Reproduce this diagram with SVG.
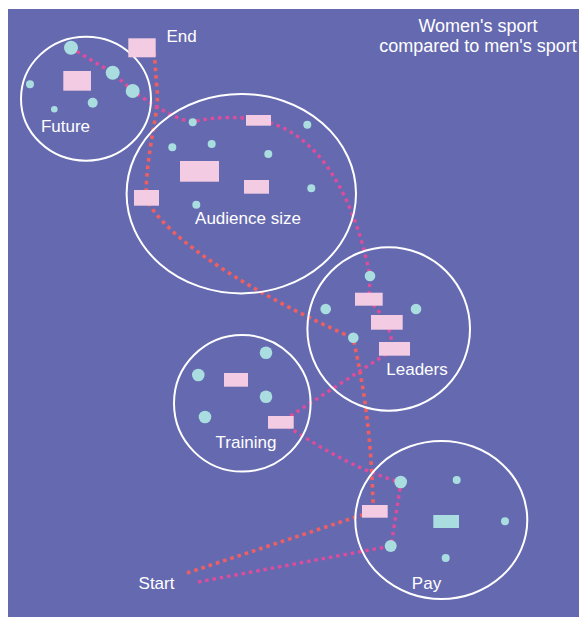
<svg xmlns="http://www.w3.org/2000/svg" width="579" height="617" viewBox="0 0 579 617">
<style>
.ring{fill:none;stroke:#fff;stroke-width:2}
.dot{fill:#a9dde0}
.box{fill:#f3cbe2}
.lbl{font-family:"Liberation Sans",Arial,sans-serif;font-size:17px;fill:#fff;text-anchor:middle}
.ttl{font-family:"Liberation Sans",Arial,sans-serif;font-size:18px;fill:#fff;text-anchor:middle}
.red{fill:none;stroke:#ef5f62;stroke-width:3.6;stroke-dasharray:3.6 4}
.mag{fill:none;stroke:#e04c9c;stroke-width:3.4;stroke-dasharray:3.4 4}
</style>
<rect x="0" y="0" width="579" height="617" fill="#fff"/>
<rect x="8" y="9" width="571" height="608" fill="#6569b0"/>
<g id="title">
<text class="ttl" x="478" y="32">Women's sport</text>
<text class="ttl" x="478" y="51.5">compared to men's sport</text>
</g>
<g id="connectors">
<path class="red" d="M187,573 L374,511 L373,500 C371,440 365,390 353,338 C260,297 165,240 146,198 C146,150 160,110 157,90 L154,50"/>
<path class="mag" d="M198,582 L391,546 L401,482 Q352,470 281,422 L394,349 L387,322 L369,299 L370,276 C355,200 320,130 258,120 C240,116 210,117 193,122 C178,120 160,110 133,91 L113,73 L71,48"/>
</g>
<g id="future">
<ellipse class="ring" cx="86" cy="98.7" rx="65" ry="62"/>
<rect class="box" x="63.3" y="71" width="27.7" height="19.7"/>
<circle class="dot" cx="71" cy="47.7" r="7"/>
<circle class="dot" cx="112.7" cy="72.7" r="7"/>
<circle class="dot" cx="132.7" cy="91" r="7"/>
<circle class="dot" cx="30" cy="84.3" r="4"/>
<circle class="dot" cx="92.7" cy="102.7" r="5"/>
<circle class="dot" cx="54.3" cy="109.3" r="3.3"/>
<text class="lbl" x="65.5" y="131.7">Future</text>
</g>
<g id="end">
<rect class="box" x="128.3" y="38.3" width="27.4" height="19"/>
<text class="lbl" x="181.5" y="42" >End</text>
</g>
<g id="audience">
<ellipse class="ring" cx="241.3" cy="193.7" rx="114.7" ry="99.7"/>
<rect class="box" x="180" y="161" width="39" height="20.7"/>
<rect class="box" x="244" y="180" width="25" height="13.7"/>
<rect class="box" x="246" y="115" width="25" height="10.7"/>
<rect class="box" x="134" y="190" width="25" height="15.7"/>
<circle class="dot" cx="192.7" cy="122.3" r="4"/>
<circle class="dot" cx="307.3" cy="124.7" r="4"/>
<circle class="dot" cx="172.3" cy="147.3" r="4"/>
<circle class="dot" cx="211.7" cy="144" r="4"/>
<circle class="dot" cx="268.3" cy="154" r="4"/>
<circle class="dot" cx="311.3" cy="188.3" r="4"/>
<circle class="dot" cx="196.3" cy="204.7" r="4"/>
<text class="lbl" x="248" y="224">Audience size</text>
</g>
<g id="leaders">
<ellipse class="ring" cx="388.7" cy="329" rx="81.3" ry="81.7"/>
<rect class="box" x="355" y="292.7" width="27.7" height="13"/>
<rect class="box" x="371" y="315" width="31.7" height="14.7"/>
<rect class="box" x="379" y="342" width="31" height="13.7"/>
<circle class="dot" cx="370" cy="276" r="5.3"/>
<circle class="dot" cx="325.7" cy="309" r="5.3"/>
<circle class="dot" cx="416" cy="309" r="5.3"/>
<circle class="dot" cx="353.3" cy="337.7" r="5.3"/>
<text class="lbl" x="417" y="375">Leaders</text>
</g>
<g id="training">
<ellipse class="ring" cx="242.3" cy="403.3" rx="68.3" ry="68.3"/>
<rect class="box" x="224" y="373" width="24" height="13.7"/>
<rect class="box" x="268" y="416" width="25.7" height="12.7"/>
<circle class="dot" cx="266" cy="352.7" r="6.3"/>
<circle class="dot" cx="198.3" cy="375" r="6.3"/>
<circle class="dot" cx="266" cy="396.7" r="6.3"/>
<circle class="dot" cx="205" cy="417" r="6.3"/>
<text class="lbl" x="246" y="448.3">Training</text>
</g>
<g id="pay">
<ellipse class="ring" cx="441.3" cy="520" rx="86" ry="79"/>
<rect class="box" x="362" y="505" width="25.7" height="12.7"/>
<rect class="dot" x="433.3" y="515" width="25.7" height="13"/>
<circle class="dot" cx="400.7" cy="482" r="6.3"/>
<circle class="dot" cx="390.7" cy="546" r="6"/>
<circle class="dot" cx="456.7" cy="480" r="4"/>
<circle class="dot" cx="505" cy="521.3" r="4"/>
<circle class="dot" cx="445.7" cy="558" r="4"/>
<text class="lbl" x="426.5" y="589">Pay</text>
</g>
<g id="start">
<text class="lbl" x="156.5" y="589">Start</text>
</g>
</svg>
